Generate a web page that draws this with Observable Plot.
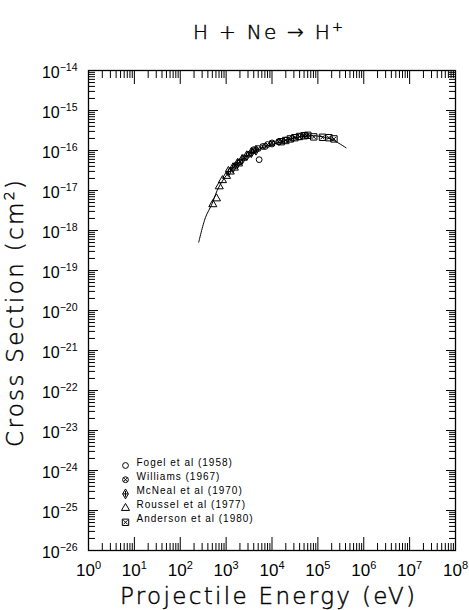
<!DOCTYPE html>
<html>
<head>
<meta charset="utf-8">
<script src="https://cdn.jsdelivr.net/npm/d3@7"></script>
<script src="https://cdn.jsdelivr.net/npm/@observablehq/plot@0.6"></script>
<style>
  html, body { margin: 0; padding: 0; background: #fff; }
  svg { display: block; }
</style>
</head>
<body>
<div id="chart"></div>
<script>
// ---- data (energy in eV, cross section in cm^2) ----
const curveE = [253, 354, 495, 637, 887, 1466, 2870, 6590, 15200, 35200, 80900, 187000, 411000];
const curveS = [5.1e-19, 2.1e-18, 4.7e-18, 1.0e-17, 1.95e-17, 3.8e-17, 7.4e-17, 1.2e-16, 1.62e-16, 2.14e-16, 2.34e-16, 1.95e-16, 1.17e-16];

const fogelE = [4000, 5250, 7100, 10000, 14100];
const fogelS = [1.05e-16, 5.9e-17, 1.26e-16, 1.45e-16, 1.62e-16];

const williamsE = [1600, 2000, 2500, 3200, 4000, 5000, 6300, 8000, 10000, 14000, 20000, 28000, 40000, 56000];
const williamsS = [4.2e-17, 5.2e-17, 6.6e-17, 8.1e-17, 9.8e-17, 1.12e-16, 1.26e-16, 1.41e-16, 1.55e-16, 1.66e-16, 1.82e-16, 2.0e-16, 2.2e-16, 2.35e-16];

const mcnealE = [1120, 1410, 1780, 2240, 2820, 3550, 4470];
const mcnealS = [3.0e-17, 3.7e-17, 4.8e-17, 6.0e-17, 7.4e-17, 8.9e-17, 1.02e-16];

const rousselE = [513, 617, 708, 832, 1020, 1230, 1510, 1860];
const rousselS = [4.5e-18, 6.3e-18, 1.26e-17, 1.8e-17, 2.3e-17, 2.95e-17, 3.7e-17, 4.7e-17];

const andersonE = [15850, 19950, 25100, 31600, 39800, 50100, 60300, 81300, 126000, 174000, 224000];
const andersonS = [1.66e-16, 1.78e-16, 1.95e-16, 2.09e-16, 2.24e-16, 2.34e-16, 2.4e-16, 2.19e-16, 2.14e-16, 2.09e-16, 1.95e-16];

const seriesNames = ["Fogel et al (1958)", "Williams (1967)", "McNeal et al (1970)", "Roussel et al (1977)", "Anderson et al (1980)"];

const xDecades = [0, 1, 2, 3, 4, 5, 6, 7, 8];
const yDecades = [-26, -25, -24, -23, -22, -21, -20, -19, -18, -17, -16, -15, -14];
const minorMultipliers = [2, 3, 4, 5, 6, 7, 8, 9];

const titleText = "H + Ne \u2192 H";
const xTitle = "Projectile Energy (eV)";
const yTitle = "Cross Section (cm";

// ---- build tables ----
const toPts = (E, S) => E.map((e, i) => ({E: e, S: S[i]}));
const curve = toPts(curveE, curveS);
const series = [
  {name: seriesNames[0], pts: toPts(fogelE, fogelS), symbol: "circle", r: 2.9, inner: null},
  {name: seriesNames[1], pts: toPts(williamsE, williamsS), symbol: "circle", r: 2.9, inner: "times"},
  {name: seriesNames[2], pts: toPts(mcnealE, mcnealS), symbol: "diamond", r: 3.0, inner: "plus"},
  {name: seriesNames[3], pts: toPts(rousselE, rousselS), symbol: "triangle", r: 3.0, inner: null},
  {name: seriesNames[4], pts: toPts(andersonE, andersonS), symbol: "square", r: 3.6, inner: "times"}
];

const xMajor = xDecades.map(d => 10 ** d);
const yMajor = yDecades.map(d => 10 ** d);
const xMinor = xDecades.slice(0, -1).flatMap(d => minorMultipliers.map(m => m * 10 ** d));
const yMinor = yDecades.slice(0, -1).flatMap(d => minorMultipliers.map(m => m * 10 ** d));

const expFmt = d => String(Math.round(Math.log10(d))).replace("-", "\u2212");
const tickFont = "'Liberation Sans', Arial, sans-serif";
const titleFont = "'DejaVu Sans', 'Liberation Sans', sans-serif";

const tickOnly = {fill: "none", label: null, strokeWidth: 1};

const marks = [
  // minor and major ticks, inward on all four sides
  Plot.axisX(xMinor, {anchor: "bottom", tickSize: -7, ...tickOnly}),
  Plot.axisX(xMinor, {anchor: "top", tickSize: -7, ...tickOnly}),
  Plot.axisX(xMajor, {anchor: "bottom", tickSize: -13, ...tickOnly}),
  Plot.axisX(xMajor, {anchor: "top", tickSize: -13, ...tickOnly}),
  Plot.axisY(yMinor, {anchor: "left", tickSize: -7, ...tickOnly}),
  Plot.axisY(yMinor, {anchor: "right", tickSize: -7, ...tickOnly}),
  Plot.axisY(yMajor, {anchor: "left", tickSize: -10, ...tickOnly}),
  Plot.axisY(yMajor, {anchor: "right", tickSize: -10, ...tickOnly}),
  // tick labels
  Plot.axisX(xMajor, {anchor: "bottom", tickSize: 0, tickPadding: 13, tickFormat: expFmt, label: null, fontSize: 17, fontFamily: tickFont}),
  Plot.axisY(yMajor, {anchor: "left", tickSize: 0, tickPadding: 11, tickFormat: expFmt, label: null, fontSize: 16, dy: 2, fontFamily: tickFont}),
  Plot.frame({stroke: "black", strokeWidth: 1.3}),
  // fitted curve
  Plot.line(curve, {x: "E", y: "S", curve: "catmull-rom", stroke: "black", strokeWidth: 1})
];

// data points
for (const s of series) {
  marks.push(Plot.dot(s.pts, {x: "E", y: "S", symbol: s.symbol, r: s.r, stroke: "black", fill: "none", strokeWidth: 1}));
  if (s.inner) marks.push(Plot.dot(s.pts, {x: "E", y: "S", symbol: s.inner, r: 2, stroke: "black", strokeWidth: 1}));
}

// legend (inside the frame, lower left)
series.forEach((s, i) => {
  const dy = -85 + 14.2 * i;
  marks.push(Plot.dot([s], {x: null, y: null, frameAnchor: "bottom-left", dx: 37, dy, symbol: s.symbol, r: s.r, stroke: "black", fill: "none", strokeWidth: 1}));
  if (s.inner) marks.push(Plot.dot([s], {x: null, y: null, frameAnchor: "bottom-left", dx: 37, dy, symbol: s.inner, r: 2, stroke: "black", strokeWidth: 1}));
  marks.push(Plot.text([s], {x: null, y: null, text: d => d.name, frameAnchor: "bottom-left", dx: 48, dy, textAnchor: "start", fontSize: 10, fontFamily: tickFont, fill: "black"}));
});

const plot = Plot.plot({
  width: 469,
  height: 610,
  marginTop: 70,
  marginRight: 14,
  marginBottom: 60,
  marginLeft: 88,
  style: {background: "white", color: "black", fontFamily: tickFont},
  x: {type: "log", domain: [1, 1e8]},
  y: {type: "log", domain: [1e-26, 1e-14]},
  marks
});

document.getElementById("chart").appendChild(plot);

// superscript exponents on tick labels
const svg = d3.select(plot);
svg.selectAll('g[aria-label="x-axis tick label"] text').each(function () {
  const t = d3.select(this); const e = t.text();
  t.text("10"); t.append("tspan").attr("dy", -7).attr("font-size", "11px").text(e);
});
svg.selectAll('g[aria-label="y-axis tick label"] text').each(function () {
  const t = d3.select(this); const e = t.text();
  t.text("10"); t.append("tspan").attr("dy", -6.5).attr("font-size", "10.5px").text(e);
});
svg.selectAll('g[aria-label="text"] text').style("letter-spacing", "1px");

// title and axis titles (thin black strokes)
const thin = sel => sel
  .attr("font-family", titleFont).attr("font-weight", 200).attr("fill", "black")
  .attr("stroke", "black").attr("stroke-width", 0.45);

const title = svg.append("text")
  .attr("x", 268).attr("y", 39).attr("text-anchor", "middle").attr("font-size", 20)
  .attr("textLength", 150).attr("lengthAdjust", "spacing")
  .call(thin)
  .text(titleText);
title.append("tspan").attr("dy", -8).attr("font-size", 13).text("+");

svg.append("text")
  .attr("x", 267.5).attr("y", 604).attr("text-anchor", "middle").attr("font-size", 23)
  .attr("textLength", 295).attr("lengthAdjust", "spacing")
  .call(thin)
  .text(xTitle);

const yt = svg.append("text")
  .attr("transform", "translate(23,313.5) rotate(-90)").attr("text-anchor", "middle").attr("font-size", 23)
  .attr("textLength", 267).attr("lengthAdjust", "spacing")
  .call(thin)
  .text(yTitle);
yt.append("tspan").attr("dy", -9).attr("font-size", 14).text("2");
yt.append("tspan").attr("dy", 9).text(")");
</script>
</body>
</html>
